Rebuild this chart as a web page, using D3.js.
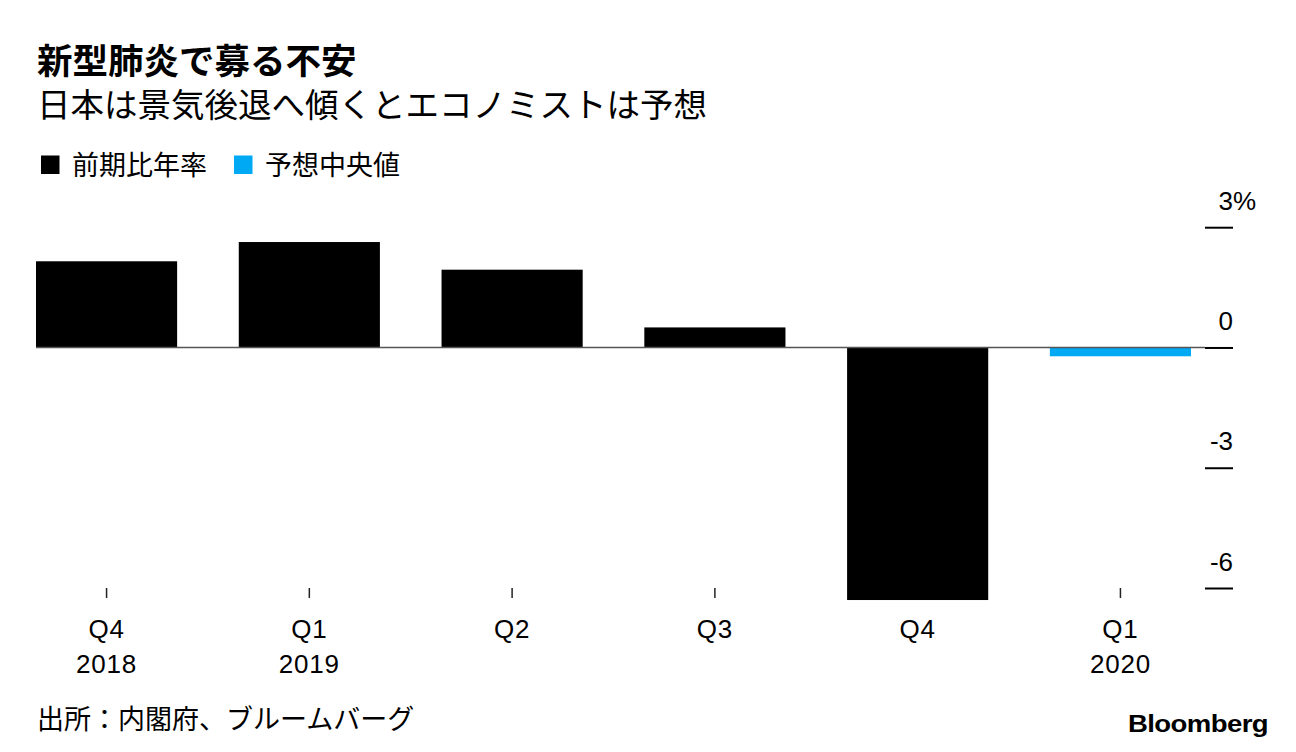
<!DOCTYPE html>
<html>
<head>
<meta charset="utf-8">
<script src="https://cdn.jsdelivr.net/npm/d3@7"></script>
<style>
  body { margin: 0; background: #fff; }
  svg { display: block; font-family: "Liberation Sans", "Noto Sans CJK JP", sans-serif; }
</style>
</head>
<body>
<svg width="1296" height="752"></svg>
<script>
// data
const quarters = ["Q4", "Q1", "Q2", "Q3", "Q4", "Q1"]
const years = ["2018", "2019", "", "", "", "2020"]
const growth = [2.15, 2.63, 1.94, 0.5, -6.3, -0.22]
const isForecast = [false, false, false, false, false, true]
const yTicks = [3, 0, -3, -6]

const svg = d3.select("svg"),
    width = +svg.attr("width"),
    height = +svg.attr("height");

const black = "#000",
    blue = "#00a9f4",
    cjk = "'Noto Sans CJK JP', sans-serif";

// scales
const x = d3.scaleBand()
    .domain(d3.range(quarters.length))
    .range([36, 1191])
    .paddingInner(0.304)
    .paddingOuter(0)

const y = d3.scaleLinear()
    .domain([-6, 3])
    .range([588, 227.2])

// title block
svg.append("text")
    .attr("x", 37).attr("y", 74)
    .style("font-family", cjk)
    .style("font-weight", "bold")
    .style("font-size", "35.5px")
    .text("新型肺炎で募る不安")

svg.append("text")
    .attr("x", 37).attr("y", 117)
    .style("font-family", cjk)
    .style("font-size", "33.5px")
    .text("日本は景気後退へ傾くとエコノミストは予想")

// legend
const legend = [
    {label: "前期比年率", color: black, x: 41},
    {label: "予想中央値", color: blue, x: 234}
]
const lg = svg.append("g")
lg.selectAll("rect")
    .data(legend)
    .join("rect")
    .attr("x", d => d.x)
    .attr("y", 155.5)
    .attr("width", 18.5)
    .attr("height", 18.5)
    .attr("fill", d => d.color)
lg.selectAll("text")
    .data(legend)
    .join("text")
    .attr("x", d => d.x + 31)
    .attr("y", 175)
    .style("font-family", cjk)
    .style("font-size", "27px")
    .text(d => d.label)

// x axis ticks (drawn first so bars cover them)
const xAxis = svg.append("g")
    .attr("transform", `translate(0, ${y(-6)})`)
    .call(d3.axisBottom(x).tickSize(10).tickFormat(i => quarters[i]))
xAxis.select(".domain").remove()
xAxis.selectAll(".tick line")
    .attr("stroke", "#222")
    .attr("stroke-width", 1.5)
xAxis.selectAll(".tick text")
    .attr("y", 50)
    .attr("dy", null)
    .attr("fill", black)
    .style("font-size", "26px")
    .style("letter-spacing", "0.8px")
    .each(function(i) {
        if (years[i]) {
            d3.select(this).append("tspan")
                .attr("x", 0)
                .attr("dy", 35)
                .text(years[i])
        }
    })

// bars
svg.append("g")
    .selectAll("rect")
    .data(growth)
    .join("rect")
    .attr("x", (d, i) => x(i))
    .attr("y", d => y(Math.max(0, d)))
    .attr("width", x.bandwidth())
    .attr("height", d => Math.abs(y(d) - y(0)))
    .attr("fill", (d, i) => isForecast[i] ? blue : black)

// zero line
svg.append("line")
    .attr("x1", 36).attr("x2", 1205)
    .attr("y1", y(0)).attr("y2", y(0))
    .attr("stroke", "#555")
    .attr("stroke-width", 1.5)

// y axis on the right
const yAxis = svg.append("g")
    .attr("transform", "translate(1205, 0)")
    .call(d3.axisRight(y).tickValues(yTicks).tickSize(28).tickFormat(d => d))
yAxis.select(".domain").remove()
yAxis.selectAll(".tick line")
    .attr("stroke", black)
    .attr("stroke-width", 2)
yAxis.selectAll(".tick text")
    .attr("x", 28)
    .attr("dy", -18)
    .attr("text-anchor", "end")
    .attr("fill", black)
    .style("font-size", "26px")
    .text(d => d < 0 ? "-" + Math.abs(d) : d)
    .filter(d => d === yTicks[0])
    .append("tspan")
    .attr("x", 28)
    .style("text-anchor", "start")
    .text("%")

// source and logo
svg.append("text")
    .attr("x", 37).attr("y", 729)
    .style("font-family", cjk)
    .style("font-size", "27px")
    .text("出所：内閣府、ブルームバーグ")

svg.append("text")
    .attr("x", 1268).attr("y", 732)
    .attr("text-anchor", "end")
    .style("font-weight", "bold")
    .style("font-size", "23px")
    .style("letter-spacing", "-0.5px")
    .attr("textLength", 140)
    .attr("lengthAdjust", "spacingAndGlyphs")
    .text("Bloomberg")
</script>
</body>
</html>
